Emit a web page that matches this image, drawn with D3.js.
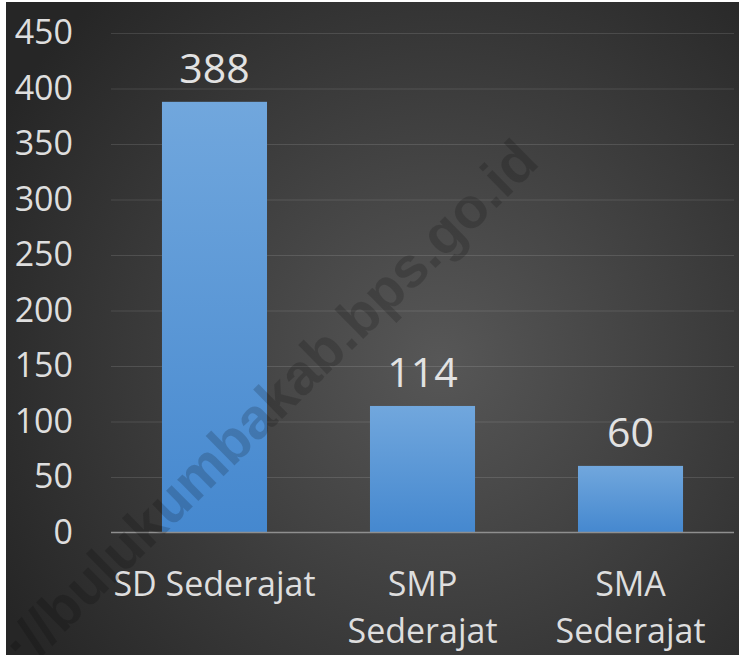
<!DOCTYPE html>
<html>
<head>
<meta charset="utf-8">
<script src="https://cdn.jsdelivr.net/npm/d3@7"></script>
<style>
  html, body { margin: 0; padding: 0; background: #ffffff; }
  svg { display: block; }
  text { font-family: "Open Sans", "Noto Sans", sans-serif; }
</style>
</head>
<body>
<svg id="chart" width="741" height="660"></svg>
<script>
// ---- data ----
const categories = ["SD Sederajat", "SMP Sederajat", "SMA Sederajat"];
const categoryLines = [["SD Sederajat"], ["SMP", "Sederajat"], ["SMA", "Sederajat"]];
const values = [388, 114, 60];
const yTicks = [0, 50, 100, 150, 200, 250, 300, 350, 400, 450];
const watermark = "https://bulukumbakab.bps.go.id";

// ---- layout ----
const plot = { left: 111, right: 734, top: 33, bottom: 532.5 };
const textColor = "#dedede";

const svg = d3.select("#chart");
const defs = svg.append("defs");

const bg = defs.append("radialGradient")
  .attr("id", "bgGrad")
  .attr("gradientUnits", "userSpaceOnUse")
  .attr("cx", 440).attr("cy", 360).attr("r", 500);
bg.append("stop").attr("offset", "0%").attr("stop-color", "#575757");
bg.append("stop").attr("offset", "100%").attr("stop-color", "#262626");

const barGrad = defs.append("linearGradient")
  .attr("id", "barGrad").attr("x1", 0).attr("y1", 0).attr("x2", 0).attr("y2", 1);
barGrad.append("stop").attr("offset", "0%").attr("stop-color", "#71a7dd");
barGrad.append("stop").attr("offset", "100%").attr("stop-color", "#4588cf");

defs.append("clipPath").attr("id", "panelClip")
  .append("rect").attr("x", 6).attr("y", 2).attr("width", 733).attr("height", 653);

// background panel
svg.append("rect")
  .attr("x", 6).attr("y", 2).attr("width", 733).attr("height", 653)
  .attr("fill", "url(#bgGrad)");

// scales
const x = d3.scaleBand()
  .domain(categories)
  .range([plot.left, plot.right])
  .paddingInner(0.495)
  .paddingOuter(0.245);

const y = d3.scaleLinear()
  .domain([0, 450])
  .range([plot.bottom, plot.top]);

// gridlines
const grid = svg.append("g")
  .attr("transform", `translate(${plot.left},0)`)
  .call(d3.axisLeft(y).tickValues(yTicks.filter(t => t > 0))
    .tickSize(-(plot.right - plot.left)).tickFormat(""));
grid.select(".domain").remove();
grid.selectAll(".tick line")
  .attr("stroke", "#ffffff").attr("stroke-opacity", 0.12).attr("stroke-width", 1);

// y axis labels
const yAxis = svg.append("g")
  .attr("transform", `translate(${plot.left},0)`)
  .call(d3.axisLeft(y).tickValues(yTicks).tickSize(0).tickPadding(38));
yAxis.select(".domain").remove();
yAxis.selectAll(".tick text")
  .attr("fill", textColor)
  .style("font-size", "34px")
  .style("font-family", "'Open Sans', 'Noto Sans', sans-serif");

// bars
svg.append("g").selectAll("rect")
  .data(values)
  .join("rect")
  .attr("x", (d, i) => x(categories[i]))
  .attr("y", d => y(d))
  .attr("width", x.bandwidth())
  .attr("height", d => y(0) - y(d))
  .attr("fill", "url(#barGrad)");

// baseline axis
svg.append("line")
  .attr("x1", plot.left).attr("x2", plot.right)
  .attr("y1", y(0)).attr("y2", y(0))
  .attr("stroke", "#8f8f8f").attr("stroke-width", 1.6);

// data labels
svg.append("g").selectAll("text")
  .data(values)
  .join("text")
  .attr("x", (d, i) => x(categories[i]) + x.bandwidth() / 2)
  .attr("y", d => y(d) - 19)
  .attr("text-anchor", "middle")
  .attr("fill", "#e2e2e2")
  .style("font-size", "41px")
  .text(d => d);

// category labels
const catG = svg.append("g").selectAll("text")
  .data(categoryLines)
  .join("text")
  .attr("x", (d, i) => x(categories[i]) + x.bandwidth() / 2)
  .attr("y", y(0) + 63.5)
  .attr("text-anchor", "middle")
  .attr("fill", textColor)
  .style("font-size", "34px");
catG.selectAll("tspan")
  .data(d => d)
  .join("tspan")
  .attr("x", function () { return d3.select(this.parentNode).attr("x"); })
  .attr("dy", (d, i) => i === 0 ? 0 : 47)
  .text(d => d);

// watermark (clipped to the panel, as in the reference)
svg.append("g").attr("clip-path", "url(#panelClip)")
  .append("text")
  .attr("transform", "translate(234,466) rotate(-44.5)")
  .attr("text-anchor", "middle")
  .attr("fill", "#000000")
  .attr("fill-opacity", 0.17)
  .style("font-family", "'Liberation Sans', Arial, sans-serif")
  .style("font-weight", "bold")
  .style("font-size", "57px")
  .text(watermark);
</script>
</body>
</html>
